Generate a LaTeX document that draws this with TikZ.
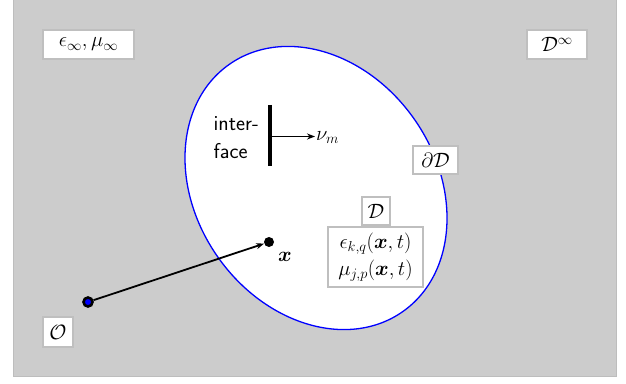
\documentclass[tikz,border=0pt]{standalone}
\usepackage{amsmath,bm}
\usetikzlibrary{arrows.meta}
\definecolor{bggray}{HTML}{CCCCCC}
\definecolor{edgegray}{HTML}{BDBDBD}
\definecolor{boxgray}{HTML}{BFBFBF}
\begin{document}
\begin{tikzpicture}[x=1pt,y=1pt,
  every node/.style={font=\fontsize{22.5}{27}\selectfont},
  lbl/.style={fill=white, draw=boxgray, line width=1.2pt, inner sep=0pt, align=center},
  dot/.style={circle, fill=black, inner sep=0pt, minimum size=10pt},
  arr/.style={-{Stealth[length=8pt,width=6pt]}, line width=1.8pt}]
\useasboundingbox (0,0) rectangle (626,383);
% background
\fill[bggray] (13,7) rectangle (616,383);
\draw[edgegray, line width=1pt] (13,383) -- (13,7) -- (616,7) -- (616,383);
% body
\draw[blue, line width=1.3pt, fill=white, rotate around={35:(316,195)}]
  (316,195) ellipse [x radius=120, y radius=151];
% labels
\node[lbl, minimum width=91pt, minimum height=29pt] (einf) at (88.5,338.5) {$\epsilon_\infty,\mu_\infty$};
\node[lbl, minimum width=60pt, minimum height=29pt] (dinf) at (557,338.5) {$\mathcal{D}^\infty$};
\node[lbl, minimum width=45pt, minimum height=28pt] (dD) at (435.5,223) {$\partial\mathcal{D}$};
\node[lbl, minimum width=28pt, minimum height=28pt] (D) at (376,172) {$\mathcal{D}$};
\node[lbl, minimum width=95pt, minimum height=60pt] (em) at (375.5,126) {$\epsilon_{k,q}(\bm{x},t)$\\$\mu_{j,p}(\bm{x},t)$};
\node[lbl, minimum width=30pt, minimum height=30pt] (Olbl) at (58,51) {$\mathcal{O}$};
% interface
\coordinate (itop) at (270,278);
\coordinate (ibot) at (270,217);
\draw[line width=3.8pt] (itop) -- (ibot);
\coordinate (istart) at (270,246.5);
\node[anchor=west, inner sep=1pt] (nu) at (315,245.5) {$\nu_m$};
\draw[arr] (istart) -- (nu.west |- istart);
\node[anchor=east, align=left, inner sep=0pt, font=\fontsize{21.5}{28}\sffamily] (itext) at (259,245) {inter-\\face};
% position vector
\node[circle, fill=blue, draw=black, line width=2.6pt, inner sep=0pt, minimum size=9pt] (O) at (88,81) {};
\node[dot] (X) at (269,141) {};
\draw[arr] (O) -- (X);
\node (xl) at (285,126) {$\bm{x}$};
\end{tikzpicture}
\end{document}
